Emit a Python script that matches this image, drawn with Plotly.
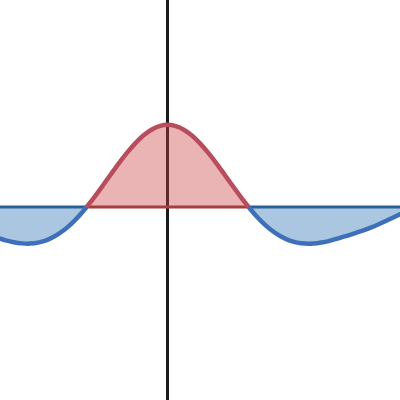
import plotly.graph_objects as go

# Curve samples (x in axis units, y height)
x_vals = [-2.1, -2.0, -1.9, -1.8, -1.7, -1.6, -1.5, -1.4, -1.3, -1.2, -1.1,
          -1.0, -0.9, -0.8, -0.7, -0.6, -0.5, -0.4, -0.3, -0.2, -0.1,
          0.0, 0.1, 0.2, 0.3, 0.4, 0.5, 0.6, 0.7, 0.8, 0.9,
          1.0, 1.1, 1.2, 1.3, 1.4, 1.5, 1.6, 1.7, 1.8, 1.9, 2.0,
          2.1, 2.2, 2.3, 2.4, 2.5, 2.6, 2.7, 2.8, 2.9]
y_vals = [-0.376, -0.406, -0.429, -0.443, -0.446, -0.434, -0.406, -0.360, -0.296, -0.214, -0.115,
          0.0, 0.127, 0.261, 0.399, 0.535, 0.662, 0.775, 0.870, 0.941, 0.985,
          1.0, 0.985, 0.941, 0.870, 0.775, 0.662, 0.535, 0.399, 0.261, 0.127,
          0.0, -0.115, -0.214, -0.296, -0.360, -0.406, -0.434, -0.446, -0.445, -0.432, -0.412,
          -0.385, -0.355, -0.325, -0.292, -0.255, -0.213, -0.168, -0.121, -0.075]

# split into the signed regions at the two roots
i_left = x_vals.index(-1.0)
i_right = x_vals.index(1.0)
segments = [
    (x_vals[:i_left + 1], y_vals[:i_left + 1], 'blue'),
    (x_vals[i_left:i_right + 1], y_vals[i_left:i_right + 1], 'red'),
    (x_vals[i_right:], y_vals[i_right:], 'blue'),
]

colors = {
    'blue': dict(fill='rgba(45,112,179,0.4)', line='#3d70b8', base='#2c5f96'),
    'red': dict(fill='rgba(199,68,64,0.4)', line='#b84d5e', base='#a83c3e'),
}

fig = go.Figure()
for xs, ys, c in segments:
    fig.add_trace(go.Scatter(x=xs, y=ys, mode='lines', fill='tozeroy',
                             fillcolor=colors[c]['fill'],
                             line=dict(width=0, shape='spline'),
                             hoverinfo='skip'))
for xs, ys, c in segments:
    fig.add_trace(go.Scatter(x=[xs[0], xs[-1]], y=[0, 0], mode='lines',
                             line=dict(color=colors[c]['base'], width=3),
                             hoverinfo='skip'))
for xs, ys, c in segments:
    fig.add_trace(go.Scatter(x=xs, y=ys, mode='lines',
                             line=dict(color=colors[c]['line'], width=4.5,
                                       shape='spline'),
                             hoverinfo='skip'))

fig.update_layout(
    width=400, height=400,
    margin=dict(l=0, r=0, t=0, b=0),
    paper_bgcolor='white', plot_bgcolor='white',
    showlegend=False,
)
fig.update_xaxes(range=[-2.07, 2.87], showgrid=False, showticklabels=False,
                 zeroline=True, zerolinecolor='#1a1a1a', zerolinewidth=3)
fig.update_yaxes(range=[-2.35, 2.52], showgrid=False, showticklabels=False,
                 zeroline=False)

# drop the page margin so the 400x400 figure fills the window
fig.write_html('out.html', config={'displayModeBar': False},
               post_script="document.body.style.margin='0';"
                           "document.body.style.overflow='hidden';")
